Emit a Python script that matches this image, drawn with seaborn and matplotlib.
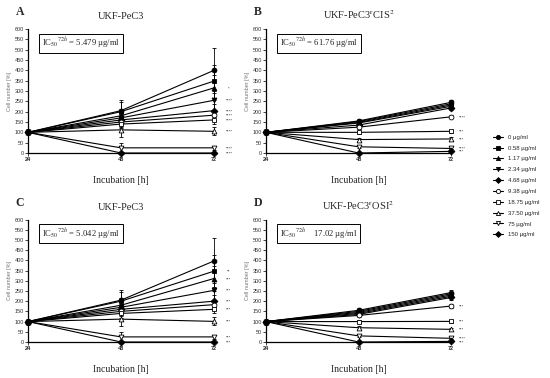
import numpy as np
import pandas as pd
import matplotlib
matplotlib.use("Agg")
import matplotlib.pyplot as plt
from matplotlib.lines import Line2D
import seaborn as sns

sns.set_theme(style="ticks")
plt.rcParams['font.family'] = ['Liberation Serif', 'DejaVu Serif']
plt.rcParams['mathtext.fontset'] = 'stix'

times = [24, 48, 72]
concs = ['0 µg/ml', '0.58 µg/ml', '1.17 µg/ml', '2.34 µg/ml', '4.68 µg/ml',
         '9.38 µg/ml', '18.75 µg/ml', '37.50 µg/ml', '75 µg/ml', '150 µg/ml']
marker_shapes = ['o', 's', '^', 'v', 'D', 'o', 's', '^', 'v', 'D']
open_marker = [False, False, False, False, False, True, True, True, True, False]

# Panel A: UKF-PeC3
A_48 = [205, 200, 180, 170, 160, 150, 140, 112, 25, 0]
A_72 = [400, 348, 315, 255, 205, 183, 160, 105, 25, 0]
A_sd48 = [50, 45, 35, 30, 25, 25, 20, 35, 25, 3]
A_sd72 = [110, 80, 60, 45, 30, 25, 20, 20, 10, 3]
A_stars = ['', '', '*', '****', '****', '****', '****', '****', '****', '****']

# Panel B: UKF-PeC3rCIS2
B_48 = [155, 152, 148, 145, 135, 125, 100, 65, 30, 0]
B_72 = [245, 238, 232, 226, 218, 175, 105, 68, 22, 8]
B_sd48 = [10, 8, 8, 8, 8, 8, 8, 8, 5, 2]
B_sd72 = [12, 10, 10, 10, 10, 8, 8, 8, 5, 3]
B_stars = ['', '', '', '', '', '****', '***', '***', '****', '***']

# Panel C: UKF-PeC3
C_48 = [205, 200, 180, 170, 160, 150, 140, 112, 25, 0]
C_72 = [397, 347, 311, 253, 200, 183, 160, 101, 25, 0]
C_sd48 = [50, 45, 35, 30, 25, 25, 20, 35, 25, 3]
C_sd72 = [110, 80, 60, 45, 30, 25, 20, 20, 10, 3]
C_stars = ['', '**', '***', '***', '***', '', '***', '***', '***', '***']

# Panel D: UKF-PeC3rOSI2
D_48 = [155, 150, 145, 140, 135, 130, 100, 70, 30, 0]
D_72 = [242, 236, 230, 224, 218, 176, 101, 62, 18, 3]
D_sd48 = [10, 8, 8, 8, 8, 8, 8, 8, 5, 2]
D_sd72 = [12, 10, 10, 10, 10, 8, 8, 8, 5, 3]
D_stars = ['', '', '', '', '', '***', '***', '***', '****', '***']

panels = [
    dict(letter='A', title='UKF-PeC3', ic='IC$_{50}$$^{72h}$ = 5.479 µg/ml',
         v48=A_48, v72=A_72, sd48=A_sd48, sd72=A_sd72, stars=A_stars,
         rect=[28/550, 1-153/378, 186/550, 124/378], staroff=15),
    dict(letter='B', title='UKF-PeC3$^{\\mathrm{r}}$CIS$^{2}$', ic='IC$_{50}$$^{72h}$ = 61.76 µg/ml',
         v48=B_48, v72=B_72, sd48=B_sd48, sd72=B_sd72, stars=B_stars,
         rect=[266/550, 1-153/378, 185/550, 124/378], staroff=11),
    dict(letter='C', title='UKF-PeC3', ic='IC$_{50}$$^{72h}$ = 5.042 µg/ml',
         v48=C_48, v72=C_72, sd48=C_sd48, sd72=C_sd72, stars=C_stars,
         rect=[28/550, 1-342/378, 186/550, 122.5/378], staroff=15),
    dict(letter='D', title='UKF-PeC3$^{\\mathrm{r}}$OSI$^{2}$', ic='IC$_{50}$$^{72h}$    17.02 µg/ml',
         v48=D_48, v72=D_72, sd48=D_sd48, sd72=D_sd72, stars=D_stars,
         rect=[266/550, 1-342/378, 185/550, 122.5/378], staroff=11),
]

fig = plt.figure(figsize=(5.5, 3.78), dpi=100)
markers = {c: m for c, m in zip(concs, marker_shapes)}
sans = ['Liberation Sans', 'DejaVu Sans']

for p in panels:
    ax = fig.add_axes(p['rect'])
    rows = []
    for i, c in enumerate(concs):
        vals = [100, p['v48'][i], p['v72'][i]]
        for t, v in zip(times, vals):
            rows.append(dict(Time=t, Cells=v, Conc=c))
    df = pd.DataFrame(rows)
    sns.lineplot(data=df, x='Time', y='Cells', style='Conc', style_order=concs,
                 markers=markers, dashes=False, color='black', ax=ax,
                 legend=False, markersize=3.5, linewidth=0.8, errorbar=None)
    for line, op in zip(ax.lines, open_marker):
        line.set_markeredgecolor('black')
        line.set_markeredgewidth(0.6)
        line.set_markerfacecolor('white' if op else 'black')
        line.set_clip_on(False)
        line.set_zorder(3)
    # star label positions: keep a minimum vertical gap so labels stay legible
    star_idx = [i for i in range(len(concs)) if p['stars'][i]]
    star_idx.sort(key=lambda i: p['v72'][i])
    ypos = {}
    last = -1e9
    for i in star_idx:
        y = max(p['v72'][i] - 4, last + 19)
        ypos[i] = y
        last = y
    for i, c in enumerate(concs):
        ax.errorbar([48, 72], [p['v48'][i], p['v72'][i]],
                    yerr=[p['sd48'][i], p['sd72'][i]], fmt='none',
                    ecolor='black', elinewidth=0.6, capsize=1.5, capthick=0.6,
                    clip_on=False, zorder=2)
        if p['stars'][i]:
            ax.annotate(p['stars'][i], xy=(72, ypos[i]), xytext=(p['staroff'], 0),
                        textcoords='offset pixels', ha='center', va='center',
                        fontsize=3.2, family=sans, annotation_clip=False)
    ax.set_xlim(24, 72)
    ax.set_ylim(0, 600)
    ax.set_xticks(times)
    ax.set_xticklabels([str(t) for t in times], fontsize=4, fontweight='bold',
                       family=sans)
    ax.set_yticks(np.arange(0, 601, 50))
    ax.set_yticklabels([str(v) for v in range(0, 601, 50)], fontsize=4,
                       family=sans, color='#333333')
    ax.tick_params(axis='both', length=2, width=0.6, pad=1)
    for s in ['top', 'right']:
        ax.spines[s].set_visible(False)
    for s in ['left', 'bottom']:
        ax.spines[s].set_linewidth(0.9)
        ax.spines[s].set_color('black')
    ax.set_ylabel('Cell number [%]', fontsize=4, color='#777777',
                  family=sans, labelpad=2)
    ax.set_xlabel('Incubation [h]', fontsize=7, labelpad=10)
    ax.set_title(p['title'], fontsize=7.5, pad=7)
    ax.text(-0.043, 1.135, p['letter'], transform=ax.transAxes, fontsize=8.5,
            fontweight='bold', ha='center', va='center')
    ax.text(0.075, 0.885, p['ic'], transform=ax.transAxes, fontsize=6.2,
            ha='left', va='center',
            bbox=dict(boxstyle='square,pad=0.3', fc='white', ec='black', lw=0.7))

handles = []
for c, m, op in zip(concs, marker_shapes, open_marker):
    handles.append(Line2D([0], [0], color='black', lw=0.8, marker=m, markersize=3,
                          markerfacecolor='white' if op else 'black',
                          markeredgecolor='black', markeredgewidth=0.6))
fig.legend(handles, concs, loc='center left', bbox_to_anchor=(488/550, 1-186/378),
           frameon=False, handlelength=1.6, labelspacing=0.95,
           handletextpad=0.8, prop={'family': sans, 'size': 4.3})

fig.savefig('out.png', dpi=100)
